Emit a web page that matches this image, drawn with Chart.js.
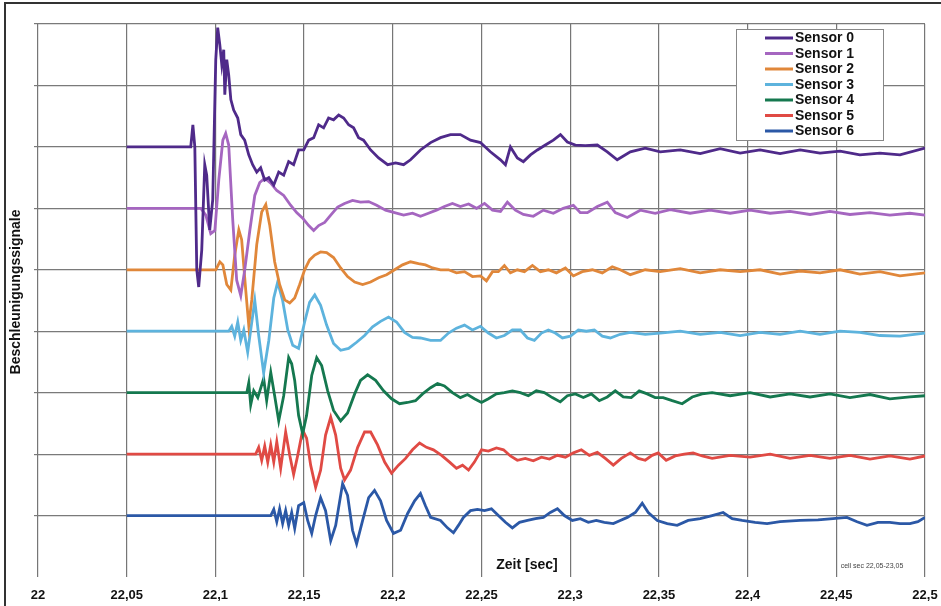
<!DOCTYPE html>
<html>
<head>
<meta charset="utf-8">
<title>Beschleunigungssignale</title>
<script src="https://cdn.jsdelivr.net/npm/chart.js@4.4.1/dist/chart.umd.min.js"></script>
<style>
  html, body { margin: 0; padding: 0; background: #fff; }
  #wrap { width: 941px; height: 606px; }
</style>
</head>
<body>
<div id="wrap"><canvas id="chart" width="941" height="606"></canvas></div>
<script>
// time axis (sec)
const xTickValues = [22, 22.05, 22.1, 22.15, 22.2, 22.25, 22.3, 22.35, 22.4, 22.45, 22.5];
const xTickLabels = ['22', '22,05', '22,1', '22,15', '22,2', '22,25', '22,3', '22,35', '22,4', '22,45', '22,5'];

const sensorNames = ['Sensor 0', 'Sensor 1', 'Sensor 2', 'Sensor 3', 'Sensor 4', 'Sensor 5', 'Sensor 6'];
const sensorColors = ['#4f2a8a', '#a566c0', '#e0873a', '#5db3dd', '#15784f', '#e04a44', '#2b58a6'];
// each trace is drawn around its own baseline
const baselines = [7, 6, 5, 4, 3, 2, 1];

// [ms after 22 s, signal]
const sensor0 = [[50,0],[86.1,0],[87.3,0.36],[88.4,0],[89.5,-2.00],[90.6,-2.28],[92.3,-1.68],[94.0,-0.29],[95.1,-0.46],[96.8,-1.35],
  [98.5,-0.86],[100.2,1.42],[101.3,1.94],[102.5,1.66],[103.6,1.34],[104.7,1.58],[105.3,0.85],[106.4,1.42],[107.5,1.17],[108.7,0.77],
  [110.3,0.60],[112.6,0.47],[114.3,0.20],[116.5,0.11],[118.8,-0.13],[121.0,-0.29],[123.3,-0.41],[125.5,-0.34],[127.8,-0.54],[130.1,-0.50],
  [132.9,-0.62],[135.7,-0.41],[138.5,-0.46],[141.3,-0.24],[144.1,-0.29],[146.9,-0.05],[149.8,-0.05],[152.6,0.11],[155.4,0.15],[158.2,0.36],
  [161.0,0.31],[163.8,0.47],[166.6,0.44],[169.5,0.52],[172.3,0.47],[175.1,0.36],[177.9,0.31],[180.7,0.15],[183.5,0.11],[187.5,-0.05],
  [192.0,-0.18],[197.1,-0.29],[201.6,-0.26],[206.1,-0.29],[210.0,-0.21],[215.6,-0.05],[221.3,0.07],[226.9,0.15],[232.5,0.20],[238.1,0.20],
  [243.8,0.11],[249.4,0.07],[255.0,-0.08],[260.7,-0.21],[263.5,-0.29],[266.3,0],[270.2,-0.18],[273.6,-0.24],[277.6,-0.13],[281.5,-0.05],
  [286.0,0.03],[290.5,0.11],[294.5,0.20],[298.4,0.08],[302.9,0.03],[308.5,0.02],[315.3,0.03],[320.9,-0.08],[326.5,-0.21],[333.9,-0.08],
  [342.3,-0.02],[350.8,-0.08],[362.0,-0.05],[373.3,-0.11],[384.5,-0.03],[395.8,-0.10],[407.0,-0.05],[418.3,-0.11],[429.6,-0.05],[440.8,-0.10],
  [452.1,-0.07],[463.3,-0.13],[474.6,-0.10],[485.9,-0.13],[500,-0.02]];

const sensor1 = [[50,0],[91.8,0],[94.6,-0.11],[97.4,-0.41],[99.7,-0.36],[101.9,0.46],[104.2,1.11],[105.8,1.22],[107.5,1.03],[109.8,-0.20],
  [112.0,-1.17],[114.3,-1.42],[116.5,-1.01],[119.4,-0.36],[122.2,0.21],[125.0,0.42],[127.8,0.49],[131.2,0.41],[134.6,0.29],[138.5,0.21],
  [142.4,0.05],[145.8,-0.07],[149.2,-0.16],[152.6,-0.28],[155.4,-0.36],[158.2,-0.28],[161.6,-0.23],[165.0,-0.11],[168.9,0.02],[172.8,0.08],
  [177.3,0.13],[181.8,0.10],[186.4,0.11],[190.9,0.05],[195.9,-0.03],[201.0,-0.07],[206.1,-0.11],[211.1,-0.08],[215.6,-0.13],[220.1,-0.08],
  [224.6,-0.03],[229.1,0.03],[233.6,0.08],[238.1,0.03],[242.7,0.07],[247.2,0],[251.7,0.08],[256.2,-0.03],[260.7,-0.05],[264.6,0.10],
  [269.1,-0.03],[273.6,-0.10],[279.2,-0.13],[284.9,-0.03],[290.5,-0.08],[296.1,0],[301.8,0.05],[305.7,-0.07],[309.7,-0.07],[315.3,0.03],
  [320.9,0.10],[325.4,-0.07],[332.2,-0.15],[339.5,-0.03],[347.9,-0.08],[356.4,-0.02],[367.6,-0.08],[378.9,-0.03],[390.2,-0.08],[401.4,-0.03],
  [412.7,-0.08],[423.9,-0.05],[435.2,-0.10],[446.4,-0.05],[457.7,-0.10],[469.0,-0.07],[480.2,-0.11],[491.5,-0.08],[500,-0.11]];

const sensor2 = [[50,0],[100.2,0],[102.5,0.13],[104.2,0.08],[106.4,-0.24],[108.7,-0.33],[110.9,0.24],[113.2,0.65],[114.8,0.49],[117.1,-0.33],
  [118.8,-0.90],[120.5,-0.49],[123.3,0.41],[126.1,0.94],[128.4,1.06],[130.6,0.73],[133.4,0.13],[136.2,-0.24],[139.1,-0.49],[141.9,-0.54],
  [144.7,-0.46],[147.5,-0.24],[150.3,0],[153.1,0.16],[156.0,0.24],[159.3,0.29],[162.7,0.28],[166.6,0.20],[170.6,0.03],[174.5,-0.11],
  [178.5,-0.20],[183.0,-0.24],[187.5,-0.20],[192.0,-0.13],[196.5,-0.08],[201.0,0],[205.5,0.08],[210.0,0.13],[214.5,0.10],[218.4,0.08],
  [222.4,0.03],[226.9,0],[231.4,0],[235.9,-0.05],[240.4,-0.03],[244.9,-0.11],[249.4,-0.10],[252.8,-0.18],[256.2,-0.03],[259.5,-0.03],
  [262.9,0.07],[266.3,-0.05],[270.2,0],[274.2,-0.03],[278.7,0.07],[283.2,-0.03],[287.7,0],[292.2,-0.05],[297.3,0.03],[301.8,-0.10],
  [306.8,-0.03],[312.5,0],[318.1,-0.05],[323.7,0.05],[328.2,0],[333.9,-0.08],[342.3,0],[350.7,-0.03],[362.0,0.02],[373.3,-0.05],
  [384.5,0],[395.8,-0.03],[407.0,0],[418.3,-0.07],[429.6,-0.02],[440.8,-0.05],[452.1,0],[463.3,-0.07],[474.6,-0.03],[485.9,-0.10],[500,-0.05]];

const sensor3 = [[50,0],[107.5,0],[109.2,0.08],[110.9,-0.08],[112.6,0.15],[114.3,-0.15],[116.0,0.02],[118.2,-0.34],[119.9,0.02],[122.2,0.50],
  [124.4,-0.07],[127.2,-0.68],[130.1,-0.15],[132.9,0.54],[135.1,0.80],[137.9,0.50],[140.8,0.02],[143.6,-0.23],[146.9,-0.28],[150.3,0.15],
  [153.1,0.47],[156.0,0.59],[159.3,0.42],[162.7,0.10],[166.6,-0.20],[170.6,-0.31],[175.1,-0.28],[179.6,-0.18],[184.1,-0.07],[188.6,0.07],
  [193.1,0.16],[197.6,0.23],[202.1,0.15],[206.6,-0.02],[211.1,-0.10],[215.6,-0.11],[221.3,-0.15],[226.9,-0.15],[231.4,-0.03],[235.9,0.05],
  [240.4,0.10],[244.9,0.02],[249.4,0.08],[253.9,-0.03],[258.4,-0.11],[262.9,-0.07],[267.4,0.02],[271.9,0.02],[275.9,-0.11],[279.8,-0.15],
  [283.8,-0.03],[287.7,0.02],[291.6,-0.03],[295.6,-0.11],[300.1,-0.08],[304.6,0.02],[309.1,0],[313.6,0.02],[318.1,-0.08],[322.6,-0.11],
  [328.2,-0.05],[333.9,-0.02],[342.3,-0.05],[350.7,-0.03],[362.0,0],[373.3,-0.05],[384.5,-0.02],[395.8,-0.07],[407.0,-0.02],[418.3,-0.05],
  [429.6,0],[440.8,-0.05],[452.1,0],[463.3,-0.02],[474.6,-0.07],[485.9,-0.08],[500,-0.03]];

const sensor4 = [[50,0],[116.0,0],[117.7,0],[118.8,0.16],[119.9,-0.20],[121.6,0.03],[123.9,-0.08],[125.5,0.07],[127.2,0.23],[128.9,-0.13],
  [131.2,0.33],[133.4,-0.05],[135.7,-0.46],[138.5,-0.05],[141.3,0.57],[143.0,0.47],[144.7,0.20],[146.9,-0.37],[149.2,-0.67],[151.4,-0.37],
  [154.3,0.28],[157.1,0.57],[159.9,0.44],[163.3,0.03],[166.6,-0.29],[170.6,-0.46],[174.5,-0.33],[178.5,-0.02],[181.8,0.20],[185.8,0.29],
  [190.3,0.20],[194.8,0.03],[199.3,-0.10],[203.8,-0.18],[208.3,-0.16],[212.8,-0.13],[216.8,-0.02],[221.3,0.08],[225.2,0.15],[229.1,0.11],
  [233.6,0],[238.1,-0.08],[242.1,-0.03],[246.0,-0.10],[250.0,-0.16],[253.9,-0.10],[258.4,-0.02],[262.9,0],[267.4,0.03],[271.9,0],
  [276.4,-0.05],[280.9,0.03],[285.4,0],[289.9,-0.08],[294.4,-0.15],[298.4,-0.05],[302.9,-0.02],[307.4,-0.08],[311.9,-0.02],[316.4,-0.13],
  [320.9,-0.07],[325.4,0.03],[329.9,-0.07],[334.4,-0.08],[338.9,0.03],[343.4,-0.02],[347.9,-0.08],[352.4,-0.08],[357.5,-0.13],[363.1,-0.18],
  [368.8,-0.07],[374.4,-0.02],[380.0,0],[390.2,-0.05],[401.4,0],[412.7,-0.07],[423.9,-0.02],[435.2,-0.07],[446.4,-0.02],[457.7,-0.08],
  [469.0,-0.03],[480.2,-0.10],[491.5,-0.07],[500,-0.05]];

const sensor5 = [[50,0],[122.7,0],[124.4,0.11],[126.1,-0.10],[127.8,0.13],[129.5,-0.13],[131.2,0.15],[132.9,-0.13],[134.6,0.20],[136.8,-0.23],
  [139.6,0.36],[141.9,-0.02],[144.1,-0.33],[146.4,-0.02],[149.2,0.39],[151.4,0.26],[153.7,-0.18],[156.5,-0.54],[159.3,-0.26],[162.1,0.31],
  [165.0,0.60],[167.8,0.31],[170.6,-0.23],[172.8,-0.42],[176.2,-0.26],[180.2,0.11],[184.1,0.36],[187.5,0.36],[191.4,0.15],[195.4,-0.13],
  [199.3,-0.31],[203.2,-0.18],[207.2,-0.07],[211.1,0.07],[215.1,0.18],[219.0,0.11],[222.9,0.07],[227.5,-0.02],[232.0,-0.13],[235.9,-0.23],
  [239.3,-0.18],[242.7,-0.26],[246.0,-0.13],[250.0,0.07],[253.9,0.05],[258.4,0.10],[262.4,0.07],[266.3,-0.03],[270.2,-0.10],[274.7,-0.07],
  [279.2,-0.11],[283.8,-0.05],[288.3,-0.08],[292.8,-0.02],[297.3,-0.05],[301.8,0.02],[306.3,0.07],[310.8,-0.02],[315.3,0.03],[319.8,-0.07],
  [324.3,-0.18],[328.8,-0.07],[333.9,0.02],[338.4,-0.07],[342.3,-0.10],[346.2,-0.02],[349.6,0.02],[354.1,-0.10],[359.2,-0.03],[364.3,0],
  [369.3,0.02],[374.4,-0.03],[380.0,-0.07],[390.2,-0.02],[401.4,-0.05],[412.7,0],[423.9,-0.07],[435.2,-0.02],[446.4,-0.07],[457.7,-0.02],
  [469.0,-0.08],[480.2,-0.03],[491.5,-0.08],[500,-0.03]];

const sensor6 = [[50,0],[131.2,0],[132.9,0.10],[134.6,-0.10],[136.2,0.11],[137.9,-0.13],[139.6,0.08],[141.3,-0.16],[143.0,0.05],[144.7,-0.21],
  [146.9,0.16],[149.8,0.21],[152.0,-0.08],[154.3,-0.29],[156.5,0],[159.3,0.29],[162.1,0.08],[165.0,-0.41],[167.8,-0.16],[171.7,0.52],
  [174.5,0.33],[177.3,-0.24],[179.6,-0.46],[183.0,-0.08],[186.4,0.29],[189.7,0.41],[193.1,0.24],[196.5,-0.08],[200.4,-0.29],[204.4,-0.24],
  [208.3,0.03],[212.3,0.24],[215.6,0.36],[218.4,0.16],[221.3,-0.03],[226.9,-0.08],[230.8,-0.20],[234.2,-0.28],[237.0,-0.16],[239.8,-0.03],
  [243.8,0.08],[247.7,0.10],[251.7,0.08],[255.6,0.11],[259.5,0],[263.5,-0.11],[267.4,-0.20],[271.4,-0.11],[275.9,-0.08],[280.4,-0.05],
  [284.9,-0.03],[288.8,0.05],[292.8,0.11],[296.7,0],[301.2,-0.08],[305.7,-0.05],[310.2,-0.11],[314.7,-0.08],[319.2,-0.11],[324.3,-0.13],
  [328.2,-0.08],[332.2,-0.03],[336.7,0.05],[340.6,0.20],[344.0,0.05],[349.1,-0.08],[354.7,-0.13],[360.3,-0.16],[366.5,-0.08],[373.3,-0.05],
  [380.0,0],[386.2,0.05],[391.3,-0.05],[396.9,-0.08],[404.2,-0.11],[411.0,-0.13],[418.3,-0.10],[429.6,-0.08],[439.7,-0.07],[448.1,-0.05],
  [456.0,-0.03],[461.7,-0.10],[467.3,-0.16],[473.5,-0.11],[480.2,-0.11],[485.9,-0.13],[491.5,-0.13],[496.0,-0.10],[500,-0.03]];

const sensorData = [sensor0, sensor1, sensor2, sensor3, sensor4, sensor5, sensor6];

const FONT = "'Liberation Sans', Arial, Helvetica, sans-serif";

const datasets = sensorData.map((pts, i) => ({
  label: sensorNames[i],
  data: pts.map(([ms, v]) => ({ x: 22 + ms / 1000, y: baselines[i] + v })),
  borderColor: sensorColors[i],
  borderWidth: 2.8,
  pointRadius: 0,
  tension: 0,
  fill: false
}));

// texts, legend box and page frame
const decorations = {
  id: 'decorations',
  afterDraw(chart) {
    const ctx = chart.ctx;
    ctx.save();

    // frame of the sheet
    ctx.strokeStyle = '#333';
    ctx.lineWidth = 2;
    ctx.beginPath();
    ctx.moveTo(5, 606);
    ctx.lineTo(5, 3);
    ctx.lineTo(941, 3);
    ctx.stroke();

    ctx.fillStyle = '#111';
    ctx.textBaseline = 'middle';

    // y title
    ctx.save();
    ctx.translate(16, 292);
    ctx.rotate(-Math.PI / 2);
    ctx.textAlign = 'center';
    ctx.font = 'bold 14px ' + FONT;
    ctx.fillText('Beschleunigungssignale', 0, 0);
    ctx.restore();

    // x title
    ctx.textAlign = 'center';
    ctx.font = 'bold 14px ' + FONT;
    ctx.fillText('Zeit [sec]', 527, 565);

    ctx.font = '7px ' + FONT;
    ctx.fillStyle = '#444';
    ctx.fillText('cell sec 22,05-23,05', 872, 566);

    // legend
    const bx = 736, by = 29, bw = 147, bh = 111;
    ctx.fillStyle = '#fff';
    ctx.fillRect(bx, by, bw, bh);
    ctx.strokeStyle = '#888';
    ctx.lineWidth = 1;
    ctx.strokeRect(bx + 0.5, by + 0.5, bw, bh);

    ctx.textAlign = 'left';
    ctx.font = 'bold 14px ' + FONT;
    chart.data.datasets.forEach((ds, i) => {
      const y = 38 + i * 15.5;
      ctx.strokeStyle = ds.borderColor;
      ctx.lineWidth = 3;
      ctx.beginPath();
      ctx.moveTo(765, y);
      ctx.lineTo(793, y);
      ctx.stroke();
      ctx.fillStyle = '#111';
      ctx.fillText(ds.label, 795, y + 0.5);
    });

    ctx.restore();
  }
};

new Chart(document.getElementById('chart'), {
  type: 'line',
  data: { datasets },
  options: {
    responsive: false,
    animation: false,
    layout: { padding: { left: 0, top: 24, right: 16, bottom: 0 } },
    plugins: {
      legend: { display: false },
      tooltip: { enabled: false }
    },
    scales: {
      x: {
        type: 'linear',
        min: 22,
        max: 22.5,
        afterBuildTicks: axis => { axis.ticks = xTickValues.map(value => ({ value })); },
        afterFit: axis => {
          axis.height = 29;
          axis.paddingLeft = 0;
          axis.paddingRight = 0;
        },
        ticks: {
          autoSkip: false,
          maxRotation: 0,
          padding: 11,
          color: '#111',
          font: { family: FONT, size: 13, weight: 'bold' },
          callback: (value, index) => xTickLabels[index]
        },
        grid: { color: '#767676', lineWidth: 1.2, drawTicks: false },
        border: { display: false }
      },
      y: {
        min: 0,
        max: 9,
        afterFit: axis => { axis.width = 38; },
        ticks: { stepSize: 1, display: false },
        grid: {
          color: c => (c.tick && c.tick.value === 0 ? 'rgba(0,0,0,0)' : '#7a7a7a'),
          lineWidth: 1.2,
          drawTicks: true,
          tickLength: 4
        },
        border: { display: false }
      }
    }
  },
  plugins: [decorations]
});
</script>
</body>
</html>
